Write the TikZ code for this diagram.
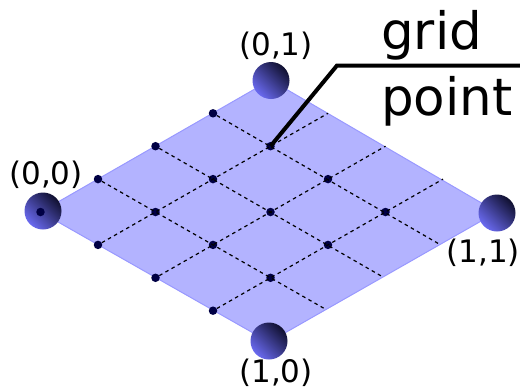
\documentclass[tikz,border=0pt]{standalone}
\usepackage{fontspec}
\setmainfont{DejaVu Sans}
\usetikzlibrary{calc}

\definecolor{planefill}{HTML}{B3B3FF}
\definecolor{planeedge}{HTML}{9999FF}
\definecolor{dotblue}{HTML}{000044}
\definecolor{spheredark}{HTML}{101030}
\definecolor{spheremid}{HTML}{33337F}
\definecolor{spherelight}{HTML}{6A6AF0}

\tikzset{
    griddot/.style={circle, fill=dotblue, inner sep=0pt, minimum size=8.5pt},
    gridline/.style={dash pattern=on 3.5pt off 3.5pt, line width=1.2pt, black},
    cornerlabel/.style={inner sep=0pt, anchor=base, font=\fontsize{31}{31}\selectfont},
    bigword/.style={inner sep=0pt, anchor=base west, font=\fontsize{51.5}{52}\selectfont},
    leader/.style={line width=4pt, black, miter limit=10},
    sphereball/.style={left color=spheredark, middle color=spheremid, right color=spherelight, shading angle=315}
}

\begin{document}
\begin{tikzpicture}[x=1pt, y=-1pt]
    \useasboundingbox (0,0) rectangle (520,389);

    % lattice corners
    \coordinate (c00) at (40.5,212);
    \coordinate (c01) at (270.5,80);
    \coordinate (c11) at (497,212);
    \coordinate (c10) at (269,342);

    \draw[fill=planefill, draw=planeedge, line width=1pt] (c00) -- (c01) -- (c11) -- (c10) -- cycle;

    % grid points
    \foreach \i in {0,...,3} {
        \foreach \j in {0,...,3} {
            \node[griddot] (g\i\j) at ({40.5+57.5*(\i+\j)},{212+32.9*(\i-\j)}) {};
        }
    }
    \foreach \k in {1,2,3} {
        \coordinate (east\k) at ({40.5+57.5*(\k+4)},{212+32.9*(\k-4)});
        \coordinate (south\k) at ($(c10)!{\k/4}!(c11)$);
        \draw[gridline] (g\k0) -- (east\k);
        \draw[gridline] (g0\k) -- (south\k);
    }

    % the four spheres
    \shade[sphereball] (43,211) circle (18.5pt);
    \shade[sphereball] (271,80.5) circle (18.5pt);
    \shade[sphereball] (497,213) circle (18.5pt);
    \shade[sphereball] (269,341) circle (18.5pt);
    \node[griddot] (origin) at (c00) {};

    \node[cornerlabel] (l00) at (46,184) {(0,0)};
    \node[cornerlabel] (l01) at (276,55) {(0,1)};
    \node[cornerlabel] (l11) at (483.2,262) {(1,1)};
    \node[cornerlabel] (l10) at (276,382.5) {(1,0)};

    \node[bigword] (grid) at (381,49) {grid};
    \node[bigword] (point) at (381,115) {point};

    \coordinate (elbow) at (337,65.5);
    \coordinate (rim) at (520,65.5);
    \draw[leader] (g13.center) -- (elbow) -- (rim);
\end{tikzpicture}
\end{document}
